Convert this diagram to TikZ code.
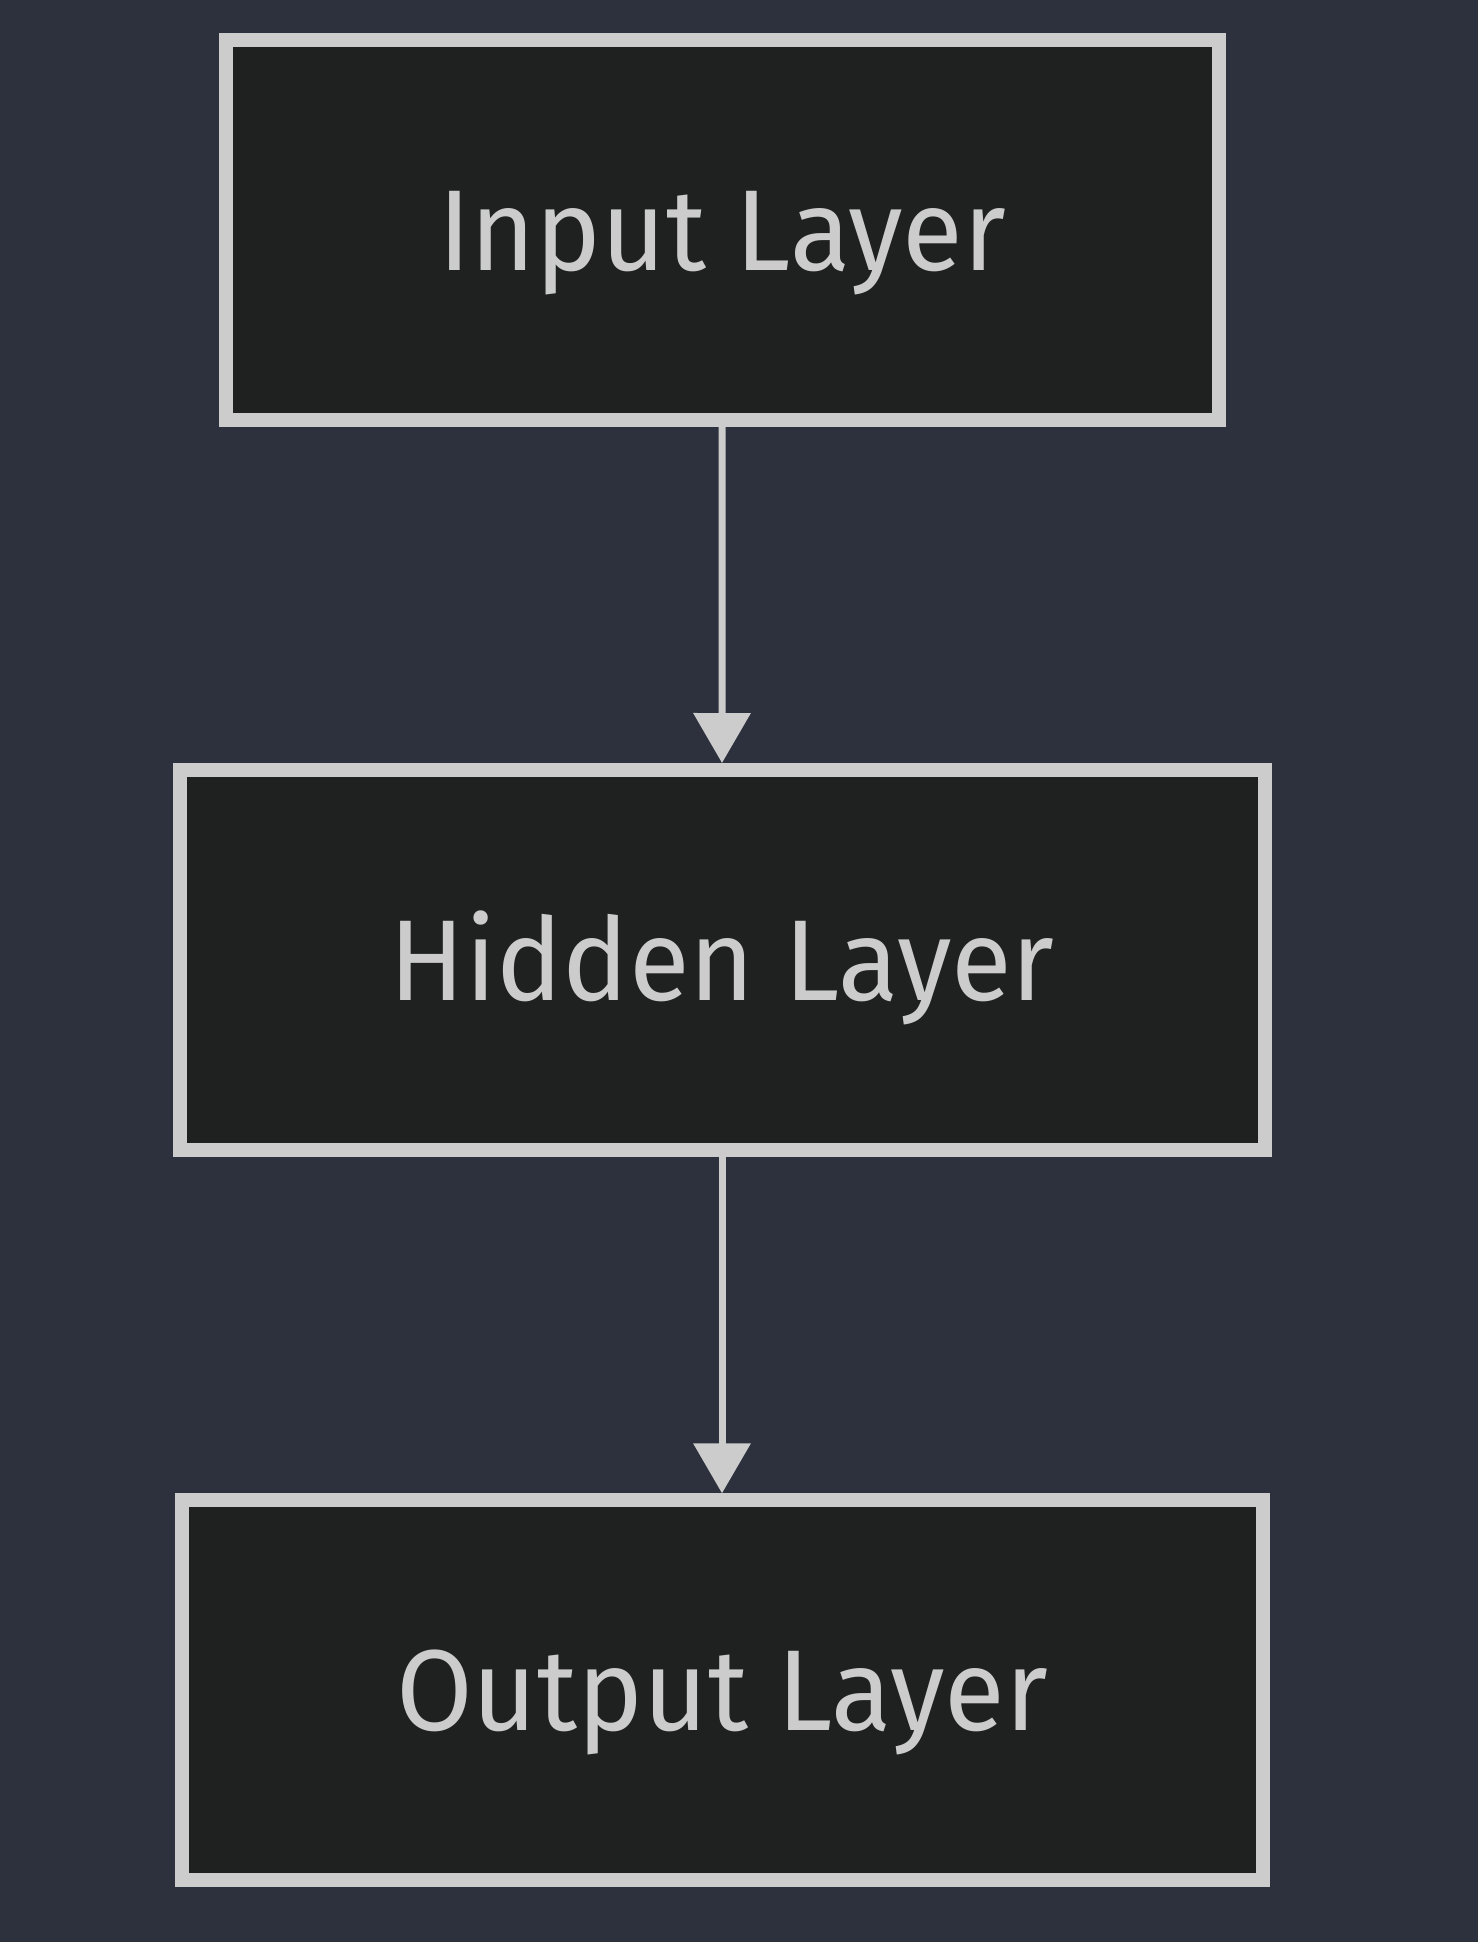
\documentclass[tikz,border=0pt]{standalone}
\usepackage{fontspec}
\setmainfont{Fira Sans}[FakeStretch=0.965]
\usetikzlibrary{arrows.meta}
\definecolor{bgc}{RGB}{45,48,61}
\definecolor{boxfill}{RGB}{31,32,32}
\definecolor{linec}{RGB}{204,204,204}
\begin{document}
\begin{tikzpicture}[x=1pt,y=-1pt,
  layerbox/.style={draw=linec, fill=boxfill, line width=14pt, rectangle, inner sep=0pt,
    text=linec, font=\fontsize{115}{130}\selectfont, text height=81pt, text depth=0pt},
  arr/.style={draw=linec, line width=7pt, -{Triangle[width=56pt 0 0,length=50pt 0 0]}}]
\fill[bgc] (0,0) rectangle (1478,1942);
\useasboundingbox (0,0) rectangle (1478,1942);
\node[layerbox, minimum width=992.8pt, minimum height=379.2pt] (in) at (722.1,229.9) {Input Layer};
\node[layerbox, minimum width=1085pt, minimum height=379.5pt] (hid) at (722,959.75) {Hidden Layer};
\node[layerbox, minimum width=1081pt, minimum height=379.2pt] (out) at (722,1689.9) {Output Layer};
\draw[arr] (in.south) -- (hid.north);
\draw[arr] (hid.south) -- (out.north);
\end{tikzpicture}
\end{document}
